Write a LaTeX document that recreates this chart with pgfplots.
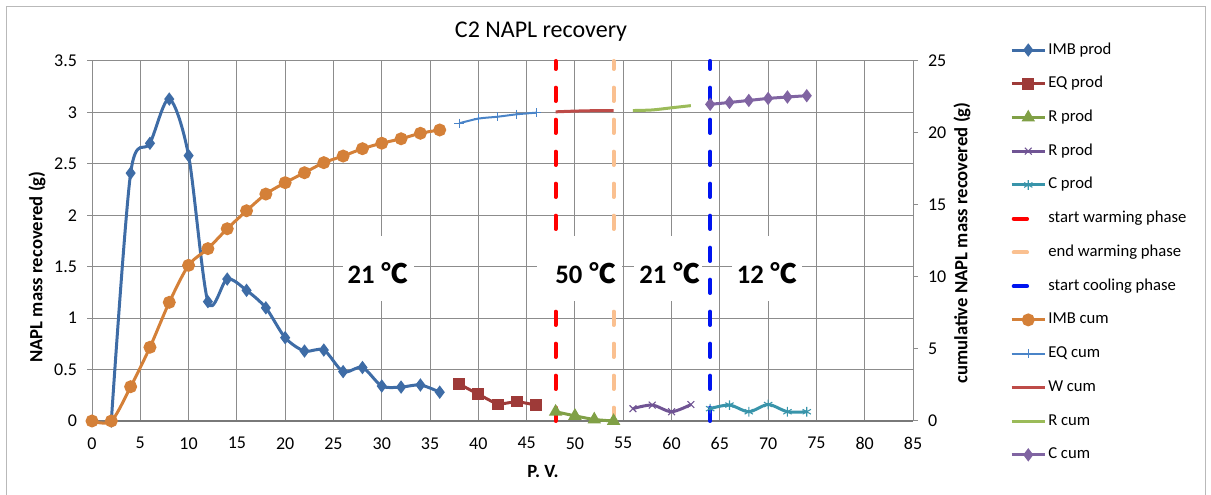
\documentclass[border=0pt]{standalone}
\usepackage{fontspec}
\setmainfont{Carlito}
\newfontfamily\cjk{Noto Sans CJK SC}
\usepackage{pgfplots}
\pgfplotsset{compat=1.18}

\definecolor{imbprod}{RGB}{62,108,166}
\definecolor{eqprod}{RGB}{158,58,56}
\definecolor{rprodg}{RGB}{128,160,70}
\definecolor{rprodp}{RGB}{112,84,148}
\definecolor{cprod}{RGB}{56,148,170}
\definecolor{warmstart}{RGB}{255,0,0}
\definecolor{warmend}{RGB}{250,192,144}
\definecolor{coolstart}{RGB}{0,20,240}
\definecolor{imbcum}{RGB}{212,128,56}
\definecolor{eqcum}{RGB}{74,132,200}
\definecolor{wcum}{RGB}{190,75,72}
\definecolor{rcum}{RGB}{155,187,89}
\definecolor{ccum}{RGB}{128,100,162}
\definecolor{gridc}{RGB}{140,140,140}

\newcommand{\degC}{\hspace{0.25em}{\cjk\bfseries ℃}}
\newcommand{\tickfont}{\fontsize{13.5}{16}\selectfont}

\pgfplotsset{
  wide legend/.style={legend image code/.code={%
    \draw[mark repeat=2,mark phase=2,##1] plot coordinates {(0pt,0pt) (12.4pt,0pt) (24.8pt,0pt)};}},
  phase/.style={line width=3pt, line cap=round, dash pattern=on 10pt off 14pt},
  base axis/.style={at={(69pt,55.5pt)}, anchor=south west, scale only axis,
    width=615.75pt, height=270pt, xmin=0, xmax=85, clip=false,
    tick align=outside, major tick length=3.75pt,
    axis line style={gridc, line width=0.75pt, -},
    ytick style={gridc, line width=0.75pt}, xtick style={draw=none},
    tick label style={font=\tickfont}, /pgf/number format/assume math mode=true},
}

\begin{document}
\begin{tikzpicture}
\useasboundingbox (0,0) rectangle (908.25pt,371.25pt);
\draw[gray!55, line width=0.75pt] (4.5pt,-5pt) rectangle (903.75pt,366pt);

% primary axis: production per P.V.
\begin{axis}[base axis, ymin=0, ymax=3.5,
  axis x line*=bottom, axis y line*=left,
  x axis line style={line width=1.5pt, gray!95!black},
  xtick={0,5,...,85}, ytick={0,0.5,...,3.5},
  grid=major, grid style={gridc, line width=0.75pt},
  yticklabel style={xshift=-4pt}, xticklabel style={yshift=-5pt}]
% phase markers
\addplot[warmstart, phase] coordinates {(48,0) (48,3.5)};
\addplot[warmend, phase] coordinates {(54,0) (54,3.5)};
\addplot[coolstart, phase] coordinates {(64,0) (64,3.5)};
% temperature labels
\fill[white] (axis cs:25.96,1.167) rectangle (axis cs:33.33,1.799);
\fill[white] (axis cs:46.1,1.167) rectangle (axis cs:54.83,1.799);
\fill[white] (axis cs:56.07,1.167) rectangle (axis cs:63.14,1.799);
\fill[white] (axis cs:66.25,1.167) rectangle (axis cs:73.52,1.799);
\node[anchor=base, font=\fontsize{20}{22}\selectfont\bfseries] at (axis cs:29.6,1.34) {21\degC};
\node[anchor=base, font=\fontsize{20}{22}\selectfont\bfseries] at (axis cs:51.1,1.34) {50\degC};
\node[anchor=base, font=\fontsize{20}{22}\selectfont\bfseries] at (axis cs:59.8,1.34) {21\degC};
\node[anchor=base, font=\fontsize{20}{22}\selectfont\bfseries] at (axis cs:69.9,1.34) {12\degC};
% production series
\addplot[imbprod, line width=2.25pt, smooth, mark=diamond*, mark size=3.2pt] coordinates {
(2,0) (4,2.41) (6,2.70) (8,3.13) (10,2.58) (12,1.16) (14,1.38) (16,1.27) (18,1.10)
(20,0.81) (22,0.68) (24,0.69) (26,0.48) (28,0.52) (30,0.34) (32,0.33) (34,0.35) (36,0.28)};
\addplot[eqprod, line width=2.25pt, mark=square*, mark size=3.3pt] coordinates {
(38,0.36) (40,0.26) (42,0.16) (44,0.19) (46,0.155)};
\addplot[rprodg, line width=2.25pt, smooth, mark=triangle*, mark size=3.6pt] coordinates {
(48,0.09) (50,0.05) (52,0.015) (54,0)};
\addplot[rprodp, line width=2.25pt, smooth, mark=x, mark size=3.6pt, mark options={line width=0.8pt}] coordinates {
(56,0.12) (58,0.155) (60,0.09) (62,0.16)};
\addplot[cprod, line width=2.25pt, smooth, mark=asterisk, mark size=3.6pt, mark options={line width=0.8pt}] coordinates {
(64,0.12) (66,0.155) (68,0.09) (70,0.16) (72,0.09) (74,0.09)};
\end{axis}

% secondary axis: cumulative recovery
\begin{axis}[base axis, ymin=0, ymax=25,
  axis x line=none, axis y line*=right, ytick={0,5,...,25},
  yticklabel style={xshift=4pt},
  wide legend, legend cell align=left,
  legend style={at={(1.1181,1.059)}, anchor=north west, draw=none, fill=none,
    inner sep=0pt, row sep=10.3pt, font=\fontsize{12.5}{14}\selectfont,
    nodes={text height=9pt, text depth=3pt, inner sep=1.5pt}}]
\addlegendimage{imbprod, line width=2.25pt, mark=diamond*, mark size=3.2pt}
\addlegendentry{IMB prod}
\addlegendimage{eqprod, line width=2.25pt, mark=square*, mark size=3.3pt}
\addlegendentry{EQ prod}
\addlegendimage{rprodg, line width=2.25pt, mark=triangle*, mark size=3.6pt}
\addlegendentry{R prod}
\addlegendimage{rprodp, line width=2.25pt, mark=x, mark size=3.6pt, mark options={line width=0.8pt}}
\addlegendentry{R prod}
\addlegendimage{cprod, line width=2.25pt, mark=asterisk, mark size=3.6pt, mark options={line width=0.8pt}}
\addlegendentry{C prod}
\addlegendimage{legend image code/.code={\draw[warmstart, line width=3pt, line cap=round] (1.5pt,0pt) -- (11.5pt,0pt); \path (24.8pt,0pt);}}
\addlegendentry{start warming phase}
\addlegendimage{legend image code/.code={\draw[warmend, line width=3pt, line cap=round] (1.5pt,0pt) -- (11.5pt,0pt); \path (24.8pt,0pt);}}
\addlegendentry{end warming phase}
\addlegendimage{legend image code/.code={\draw[coolstart, line width=3pt, line cap=round] (1.5pt,0pt) -- (11.5pt,0pt); \path (24.8pt,0pt);}}
\addlegendentry{start cooling phase}
\addlegendimage{imbcum, line width=2.25pt, mark=*, mark size=3.7pt}
\addlegendentry{IMB cum}
\addlegendimage{eqcum, line width=1.5pt, mark=+, mark size=3.5pt, mark options={line width=0.75pt}}
\addlegendentry{EQ cum}
\addlegendimage{wcum, line width=2.25pt}
\addlegendentry{W cum}
\addlegendimage{rcum, line width=2.25pt}
\addlegendentry{R cum}
\addlegendimage{ccum, line width=2.25pt, mark=diamond*, mark size=3.2pt}
\addlegendentry{C cum}

\addplot[imbcum, line width=2.25pt, smooth, mark=*, mark size=3.7pt, forget plot] coordinates {
(0,0) (2,0) (4,2.38) (6,5.12) (8,8.24) (10,10.81) (12,11.97) (14,13.35) (16,14.6) (18,15.76)
(20,16.55) (22,17.24) (24,17.94) (26,18.4) (28,18.91) (30,19.29) (32,19.6) (34,19.98) (36,20.21)};
\addplot[eqcum, line width=1.5pt, smooth, mark=+, mark size=3.5pt, mark options={line width=0.75pt}, forget plot] coordinates {
(38,20.67) (40,21.0) (42,21.13) (44,21.3) (46,21.41)};
\addplot[wcum, line width=2.25pt, smooth, forget plot] coordinates {
(48,21.47) (50,21.52) (52,21.55) (54,21.56)};
\addplot[rcum, line width=2.25pt, smooth, forget plot] coordinates {
(56,21.56) (58,21.6) (60,21.75) (62,21.9)};
\addplot[ccum, line width=2.25pt, smooth, mark=diamond*, mark size=3.2pt, forget plot] coordinates {
(64,21.99) (66,22.12) (68,22.26) (70,22.4) (72,22.5) (74,22.59)};
\end{axis}

\node[font=\fontsize{18}{20}\selectfont] at (405.75pt,347.25pt) {C2 NAPL recovery};
\node[font=\fontsize{14}{16}\selectfont\bfseries] at (407.25pt,17.25pt) {P. V.};
\node[font=\fontsize{14}{16}\selectfont\bfseries, rotate=90] at (27.75pt,171pt) {NAPL mass recovered (g)};
\node[font=\fontsize{14}{16}\selectfont\bfseries, rotate=90] at (721.5pt,189pt) {cumulative NAPL mass recovered (g)};
\end{tikzpicture}
\end{document}
